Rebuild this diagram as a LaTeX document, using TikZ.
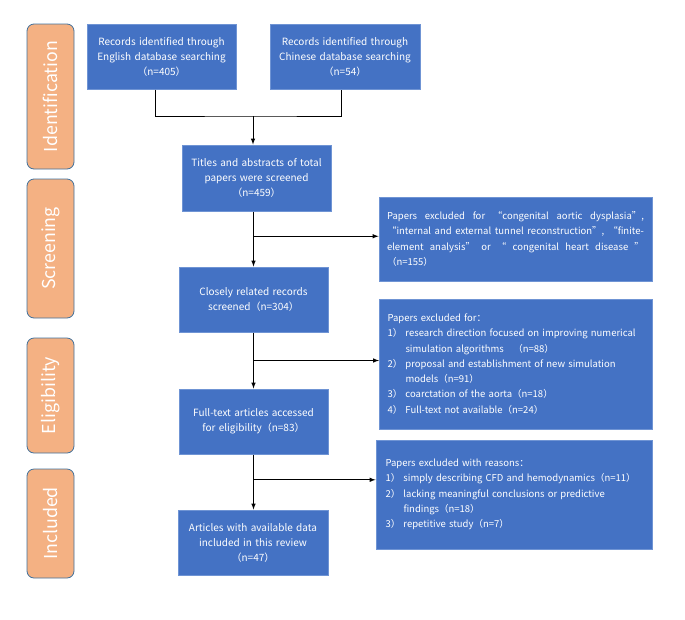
\documentclass[tikz,border=0pt]{standalone}
\usepackage{fontspec}
\setmainfont{Noto Sans CJK SC}
\usetikzlibrary{positioning, calc}

\definecolor{boxblue}{HTML}{4472C4}
\definecolor{boxline}{HTML}{6F94D4}
\definecolor{pillfill}{HTML}{F4B183}
\definecolor{pillline}{HTML}{41719C}

\hyphenpenalty=10000
\newcommand{\numline}[2]{\par\hangindent=18pt\hangafter=1\noindent\makebox[18pt][l]{#1}#2}

\begin{document}
\begin{tikzpicture}[
    x=1pt, y=-1pt,
    >=latex,
    line width=1pt,
    cmpt/.style={draw=boxline, fill=boxblue, text=white, align=center, minimum width=149pt, minimum height=65pt, text width=145pt, inner sep=0pt, font=\fontsize{10}{15}\selectfont},
    excl/.style={draw=boxline, fill=boxblue, text=white, align=left, text width=257pt, inner xsep=8pt, inner ysep=0pt, font=\fontsize{9.5}{15.3}\selectfont},
    stage/.style={draw=pillline, line width=0.8pt, fill=pillfill, text=white, rounded corners=7pt, rotate=90, minimum height=47pt, inner sep=0pt, font=\fontsize{17.8}{18}\selectfont}]

    \useasboundingbox (0,0) rectangle (685,619);

    %%% Stages
    \node[stage, minimum width=145pt] (ident) at (50.5,96.5) {Identification};
    \node[stage, minimum width=139pt] (screen) at (50.5,248.5) {Screening};
    \node[stage, minimum width=115pt] (elig) at (50.5,395.5) {Eligibility};
    \node[stage, minimum width=109pt] (incl) at (50.5,523.5) {Included};

    %%% Main flow
    \node[cmpt] (english) at (161.5,56.5) {Records identified through\\English database searching\\（n=405）};
    \node[cmpt, minimum width=150pt] (chinese) at (345,56.5) {Records identified through\\Chinese database searching\\（n=54）};
    \node[cmpt, minimum height=66pt] (titles) at (256.5,178) {Titles and abstracts of total\\papers were screened\\（n=459）};
    \node[cmpt] (closely) at (253.5,299.5) {Closely related records\\screened（n=304）};
    \node[cmpt] (fulltext) at (253.5,421.5) {Full-text articles accessed\\for eligibility（n=83）};
    \node[cmpt, minimum width=150pt] (articles) at (253,542.5) {Articles with available data\\included in this review\\（n=47）};

    %%% Excluded records
    \node[excl, align=justify, minimum width=273pt, minimum height=84pt] (excl1) at (515.5,239) {Papers excluded for “congenital aortic dysplasia”,\linebreak “internal and external tunnel reconstruction”, “finite-\linebreak element analysis” or “ congenital heart disease ”\linebreak （n=155）};
    \node[excl, minimum width=272pt, minimum height=130pt] (excl2) at (516,364) {Papers excluded for：
        \numline{1）}{research direction focused on improving numerical\newline simulation algorithms\quad（n=88）}
        \numline{2）}{proposal and establishment of new simulation\newline models（n=91）}
        \numline{3）}{coarctation of the aorta（n=18）}
        \numline{4）}{Full-text not available（n=24）}};
    \node[excl, minimum width=276pt, minimum height=109pt] (excl3) at (514,494.5) {Papers excluded with reasons：
        \numline{1）}{simply describing CFD and hemodynamics（n=11）}
        \numline{2）}{lacking meaningful conclusions or predictive\newline findings（n=18）}
        \numline{3）}{repetitive study（n=7）}};

    %%% Connectors
    \coordinate (merge) at (253,116);
    \draw ($(english.south)+(-6,0)$) |- (merge) -| ($(chinese.south)+(-4,0)$);
    \draw[->] (merge) -- (titles.north -| merge);

    \coordinate (j1) at ($(titles.south -| closely.north)!0.45!(closely.north)$);
    \coordinate (j2) at ($(closely.south)!0.5!(fulltext.north)$);
    \coordinate (j3) at ($(fulltext.south)!0.46!(articles.north -| fulltext.south)$);

    \draw[->] (titles.south -| closely.north) -- (closely.north);
    \draw[->] (closely.south) -- (fulltext.north);
    \draw[->] (fulltext.south) -- (articles.north -| fulltext.south);

    \draw[->] (j1) -- (j1 -| excl1.west);
    \draw[->] (j2) -- (j2 -| excl2.west);
    \draw[->] (j3) -- (j3 -| excl3.west);

\end{tikzpicture}
\end{document}
